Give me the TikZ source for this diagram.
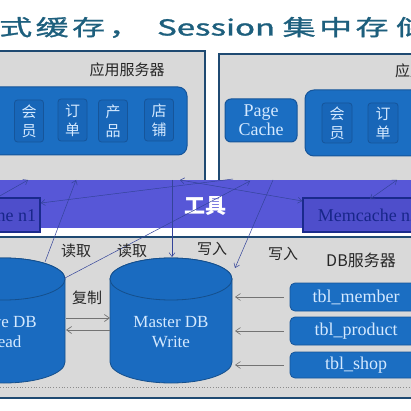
\documentclass[tikz,border=0pt]{standalone}
\usepackage{fontspec}
\setmainfont{Liberation Serif}
\newfontfamily\cjk{Noto Sans CJK SC}
\newfontfamily\cjkt[FakeBold=1]{Noto Sans CJK SC}
\usetikzlibrary{arrows.meta}
\definecolor{panelgray}{HTML}{D9D9D9}
\definecolor{paneledge}{HTML}{1F4A72}
\definecolor{blueA}{HTML}{1B6EC2}
\definecolor{blueEdge}{HTML}{16559A}
\definecolor{blueB}{HTML}{1866B8}
\definecolor{cylfill}{HTML}{1A6BC0}
\definecolor{cyledge}{HTML}{154F8C}
\definecolor{lightT}{HTML}{D4E9FF}
\definecolor{titlec}{HTML}{1D5F7D}
\definecolor{bandc}{HTML}{5757D7}
\definecolor{mcfill}{HTML}{4E4ECB}
\definecolor{mcedge}{HTML}{1A2A8C}
\definecolor{navy}{HTML}{18268A}
\definecolor{linec}{HTML}{34449A}
\begin{document}
\begin{tikzpicture}[x=1pt,y=-1pt,
  panel/.style={fill=panelgray,draw=paneledge,line width=1.4pt},
  innerbox/.style={fill=blueA,draw=blueEdge,line width=1pt,rounded corners=9pt},
  mod/.style={fill=blueB,draw=blueEdge,line width=0.8pt,rounded corners=3pt,text=lightT,
    font=\cjk\fontsize{15}{19}\selectfont,align=center,inner sep=0pt,minimum width=29pt,minimum height=42pt},
  tbl/.style={fill=blueA,draw=blueEdge,line width=0.8pt,rounded corners=5pt,text=lightT,
    font=\fontsize{18}{20}\selectfont,minimum width=132pt,inner sep=0pt},
  cyl/.style={fill=cylfill,draw=cyledge,line width=0.8pt},
  dbtext/.style={text=lightT,font=\fontsize{17}{20}\selectfont,align=center,inner sep=0pt},
  lbl/.style={font=\cjk\fontsize{15}{15}\selectfont,text=black!85,inner sep=0pt},
  mc/.style={draw=mcedge,line width=1.5pt,fill=mcfill,text=navy,font=\fontsize{18}{18}\selectfont,
    minimum height=34pt,inner sep=0pt},
  conn/.style={draw=linec,line width=0.5pt,-{Straight Barb[length=4pt,width=6pt]}},
  conn2/.style={draw=linec,line width=0.5pt,{Straight Barb[length=4pt,width=6pt]}-{Straight Barb[length=4pt,width=6pt]}},
  rep/.style={draw=black!55,line width=0.7pt,-{Straight Barb[length=5pt,width=7pt]}}]
\useasboundingbox (0,0) rectangle (411,411);
\clip (0,0) rectangle (411,411);
\fill[white] (0,0) rectangle (411,411);
% title
\node[anchor=base west,text=titlec,inner sep=0pt] (title) at (-1,35.5)
  {\scalebox{1.5}[1]{\cjkt\fontsize{22}{22}\selectfont 式\hspace{2.3pt}缓\hspace{2.3pt}存\hspace{2.3pt}，\hspace{10.4pt}Session\hspace{5pt}集\hspace{2.3pt}中\hspace{2.3pt}存\hspace{5pt}储}};
% application server panels
\draw[panel] (-5,51) rectangle (205,182);
\draw[panel] (219,54) rectangle (425,182);
\node[lbl,anchor=center] (app1) at (127,70) {应用服务器};
\node[lbl,anchor=west] (app2) at (395,71) {应用服务器};
\draw[innerbox] (-15,87) rectangle (187,155);
\draw[innerbox] (305,90) rectangle (440,156);
\node[mod] (m1) at (29,121) {会\\员};
\node[mod] (m2) at (72.5,120) {订\\单};
\node[mod] (m3) at (113,121) {产\\品};
\node[mod] (m4) at (159,120) {店\\铺};
\node[mod,minimum width=30pt,minimum height=40pt] (m5) at (337,123) {会\\员};
\node[mod,minimum width=30pt,minimum height=40pt] (m6) at (383,123) {订\\单};
\node[innerbox,rounded corners=6pt,text=lightT,font=\fontsize{18}{19}\selectfont,align=center,
  minimum width=72pt,minimum height=43pt,inner sep=0pt] (pc) at (261,120.5) {Page\\Cache};
% DB server panel
\draw[panel] (-5,237) rectangle (425,398);
\draw[black!45,dotted,line width=0.8pt] (0,387) -- (411,387);
\node[lbl,font=\cjk\fontsize{16}{16}\selectfont] (dbs) at (361,260) {DB服务器};
% cylinders
\filldraw[cyl] (110,279) -- (110,362) arc[start angle=180,end angle=0,x radius=61,y radius=21]
  -- (232,279) arc[start angle=0,end angle=-180,x radius=61,y radius=21] -- cycle;
\draw[cyl] (171,279) ellipse[x radius=61,y radius=21];
\filldraw[cyl] (-57,279) -- (-57,362) arc[start angle=180,end angle=0,x radius=61,y radius=21]
  -- (65,279) arc[start angle=0,end angle=-180,x radius=61,y radius=21] -- cycle;
\draw[cyl] (4,279) ellipse[x radius=61,y radius=21];
\node[dbtext] (master) at (171,332) {Master DB\\Write};
\node[dbtext] (slave) at (4,332) {Slave DB\\Read};
% tables
\node[tbl,minimum height=28pt] (tm) at (356,297) {tbl\_member};
\node[tbl,minimum height=28pt] (tp) at (356,331) {tbl\_product};
\node[tbl,minimum height=26pt] (ts) at (356,365) {tbl\_shop};
\coordinate (mE1) at (235,297);
\coordinate (mE2) at (235,331);
\coordinate (mE3) at (235,365);
\draw[rep,line width=0.6pt] ([xshift=-6pt]tm.west) -- (mE1);
\draw[rep,line width=0.6pt] ([xshift=-6pt]tp.west) -- (mE2);
\draw[rep,line width=0.6pt] ([xshift=-6pt]ts.west) -- (mE3);
% replication
\coordinate (sR1) at (66,318);
\coordinate (mL1) at (110,318);
\coordinate (sR2) at (66,330);
\coordinate (mL2) at (110,330);
\draw[rep] (sR1) -- (mL1);
\draw[rep] (mL2) -- (sR2);
\node[lbl] (cp) at (87,298) {复制};
% band
\fill[bandc] (0,180) rectangle (411,228);
\node[mc,minimum width=109pt] (n1) at (-14.5,215) {Memcache n1};
\node[mc,minimum width=131pt] (n2) at (368.5,215) {Memcache n2};
\node[text=white,font=\cjk\bfseries\fontsize{21}{21}\selectfont,inner sep=0pt] (tool) at (205,206) {工具};
% connectors
\coordinate (a1) at (28,180);
\coordinate (a1s) at (-2,197);
\coordinate (a2) at (76,180);
\coordinate (sTop1) at (45,262);
\coordinate (a3) at (233,179);
\coordinate (a4) at (180,180);
\coordinate (sTop2) at (65,278);
\coordinate (a5) at (250,181);
\coordinate (a6) at (273,180);
\coordinate (mTop2) at (235,268);
\coordinate (a7) at (172,180);
\coordinate (mTop1) at (172,257);
\coordinate (a8) at (397,180);
\coordinate (n2a) at (370,199);
\draw[conn] (a1s) -- (a1);
\draw[conn] (sTop1) -- (a2);
\draw[conn] (a3) -- (n1.east |- 0,203);
\draw[conn2] (a4) -- (n2.west |- 0,201);
\draw[conn] (sTop2) -- (a5);
\draw[conn] (a6) -- (mTop2);
\draw[conn] (a7) -- (mTop1);
\draw[conn2] (n2a) -- (a8);
% labels
\node[lbl] (r1) at (76,251) {读取};
\node[lbl] (r2) at (132,251) {读取};
\node[lbl] (w1) at (212,249) {写入};
\node[lbl] (w2) at (283,254) {写入};
\end{tikzpicture}
\end{document}
